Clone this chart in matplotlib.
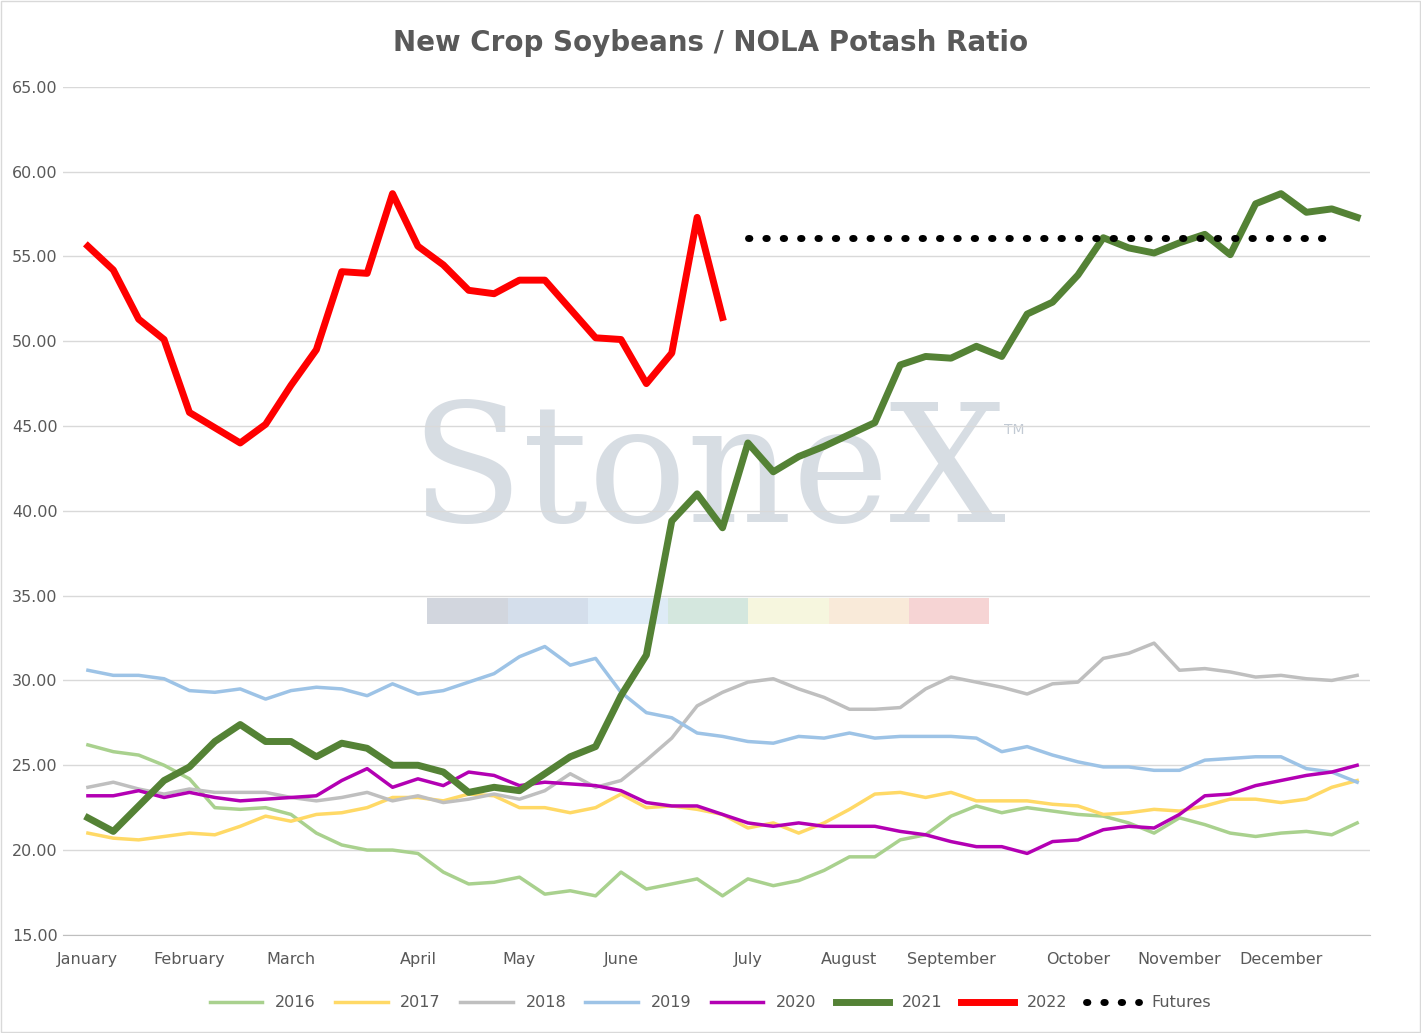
import matplotlib.pyplot as plt
from matplotlib.patches import Rectangle

months = ['January', 'February', 'March', 'April', 'May', 'June', 'July',
          'August', 'September', 'October', 'November', 'December']
month_weeks = [0, 4, 8, 13, 17, 21, 26, 30, 34, 39, 43, 47]

y2016 = [26.2, 25.8, 25.6, 25.0, 24.2, 22.5, 22.4, 22.5, 22.1, 21.0, 20.3, 20.0, 20.0, 19.8, 18.7, 18.0, 18.1,
         18.4, 17.4, 17.6, 17.3, 18.7, 17.7, 18.0, 18.3, 17.3, 18.3, 17.9, 18.2, 18.8, 19.6, 19.6, 20.6, 20.9,
         22.0, 22.6, 22.2, 22.5, 22.3, 22.1, 22.0, 21.6, 21.0, 21.9, 21.5, 21.0, 20.8, 21.0, 21.1, 20.9, 21.6]
y2017 = [21.0, 20.7, 20.6, 20.8, 21.0, 20.9, 21.4, 22.0, 21.7, 22.1, 22.2, 22.5, 23.1, 23.1, 22.9, 23.3, 23.2,
         22.5, 22.5, 22.2, 22.5, 23.3, 22.5, 22.6, 22.4, 22.1, 21.3, 21.6, 21.0, 21.6, 22.4, 23.3, 23.4, 23.1,
         23.4, 22.9, 22.9, 22.9, 22.7, 22.6, 22.1, 22.2, 22.4, 22.3, 22.6, 23.0, 23.0, 22.8, 23.0, 23.7, 24.1]
y2018 = [23.7, 24.0, 23.6, 23.3, 23.6, 23.4, 23.4, 23.4, 23.1, 22.9, 23.1, 23.4, 22.9, 23.2, 22.8, 23.0, 23.3,
         23.0, 23.5, 24.5, 23.7, 24.1, 25.3, 26.6, 28.5, 29.3, 29.9, 30.1, 29.5, 29.0, 28.3, 28.3, 28.4, 29.5,
         30.2, 29.9, 29.6, 29.2, 29.8, 29.9, 31.3, 31.6, 32.2, 30.6, 30.7, 30.5, 30.2, 30.3, 30.1, 30.0, 30.3]
y2019 = [30.6, 30.3, 30.3, 30.1, 29.4, 29.3, 29.5, 28.9, 29.4, 29.6, 29.5, 29.1, 29.8, 29.2, 29.4, 29.9, 30.4,
         31.4, 32.0, 30.9, 31.3, 29.3, 28.1, 27.8, 26.9, 26.7, 26.4, 26.3, 26.7, 26.6, 26.9, 26.6, 26.7, 26.7,
         26.7, 26.6, 25.8, 26.1, 25.6, 25.2, 24.9, 24.9, 24.7, 24.7, 25.3, 25.4, 25.5, 25.5, 24.8, 24.6, 24.0]
y2020 = [23.2, 23.2, 23.5, 23.1, 23.4, 23.1, 22.9, 23.0, 23.1, 23.2, 24.1, 24.8, 23.7, 24.2, 23.8, 24.6, 24.4,
         23.8, 24.0, 23.9, 23.8, 23.5, 22.8, 22.6, 22.6, 22.1, 21.6, 21.4, 21.6, 21.4, 21.4, 21.4, 21.1, 20.9,
         20.5, 20.2, 20.2, 19.8, 20.5, 20.6, 21.2, 21.4, 21.3, 22.1, 23.2, 23.3, 23.8, 24.1, 24.4, 24.6, 25.0]
y2021 = [21.9, 21.1, 22.6, 24.1, 24.9, 26.4, 27.4, 26.4, 26.4, 25.5, 26.3, 26.0, 25.0, 25.0, 24.6, 23.4, 23.7,
         23.5, 24.5, 25.5, 26.1, 29.1, 31.5, 39.4, 41.0, 39.0, 44.0, 42.3, 43.2, 43.8, 44.5, 45.2, 48.6, 49.1,
         49.0, 49.7, 49.1, 51.6, 52.3, 53.9, 56.1, 55.5, 55.2, 55.8, 56.3, 55.1, 58.1, 58.7, 57.6, 57.8, 57.3]
y2022 = [55.6, 54.2, 51.3, 50.1, 45.8, 44.9, 44.0, 45.1, 47.4, 49.5, 54.1, 54.0, 58.7, 55.6, 54.5, 53.0, 52.8,
         53.6, 53.6, 51.9, 50.2, 50.1, 47.5, 49.3, 57.3, 51.4]
futures_start = 26
futures = [56.1] * 24

fig = plt.figure(figsize=(14.21, 10.33), dpi=100)
ax = fig.add_axes([0.044, 0.095, 0.92, 0.821])

# watermark
ax.text(0.494, 0.54, 'StoneX', transform=ax.transAxes, ha='center', va='center',
        fontsize=118, family='DejaVu Serif', color='#a8b4c2', alpha=0.45, zorder=0)
ax.text(0.72, 0.59, 'TM', transform=ax.transAxes, fontsize=10, color='#9aa8b8', alpha=0.6, zorder=0)
wm_colors = ['#b4bcc8', '#b8c8de', '#c8dff0', '#b8d8c8', '#f0f0c8', '#f6dcc0', '#f0b8b8']
for k, c in enumerate(wm_colors):
    ax.add_patch(Rectangle((0.279 + k * 0.0614, 0.367), 0.0614, 0.03, transform=ax.transAxes,
                           color=c, alpha=0.6, lw=0, zorder=0))

x = list(range(51))
ax.plot(x, y2016, color='#a9d18e', lw=2.5, label='2016')
ax.plot(x, y2017, color='#ffd966', lw=2.5, label='2017')
ax.plot(x, y2018, color='#bfbfbf', lw=2.5, label='2018')
ax.plot(x, y2019, color='#9dc3e6', lw=2.5, label='2019')
ax.plot(x, y2020, color='#b300b3', lw=2.5, label='2020')
ax.plot(x, y2021, color='#548235', lw=5, label='2021')
ax.plot(x[:len(y2022)], y2022, color='#ff0000', lw=5, label='2022')
ax.plot(range(futures_start, futures_start + len(futures)), futures, color='black', lw=5,
        linestyle=(0, (0.2, 2.3)), dash_capstyle='round', label='Futures')

ax.set_xlim(-1, 50.5)
ax.set_ylim(15, 65)
ax.set_yticks(range(15, 66, 5))
ax.set_yticklabels([f'{v:.2f}' for v in range(15, 66, 5)])
ax.set_xticks(month_weeks)
ax.set_xticklabels(months)
ax.tick_params(colors='#595959', labelsize=11.5, length=0)
ax.tick_params(axis='x', pad=12)
ax.grid(axis='y', color='#d9d9d9', lw=1)
ax.set_axisbelow(True)
for s in ['top', 'right', 'left']:
    ax.spines[s].set_visible(False)
ax.spines['bottom'].set_color('#bfbfbf')

fig.suptitle('New Crop Soybeans / NOLA Potash Ratio', y=0.972, fontsize=20, fontweight='bold', color='#595959')
fig.legend(loc='lower center', ncol=8, frameon=False, fontsize=11.5, labelcolor='#595959',
           bbox_to_anchor=(0.5, 0.008), handlelength=3.3, columnspacing=1.2)
fig.add_artist(Rectangle((0.001, 0.001), 0.998, 0.998, transform=fig.transFigure,
                         fill=False, edgecolor='#d9d9d9', lw=1))
fig.savefig('out.png')
